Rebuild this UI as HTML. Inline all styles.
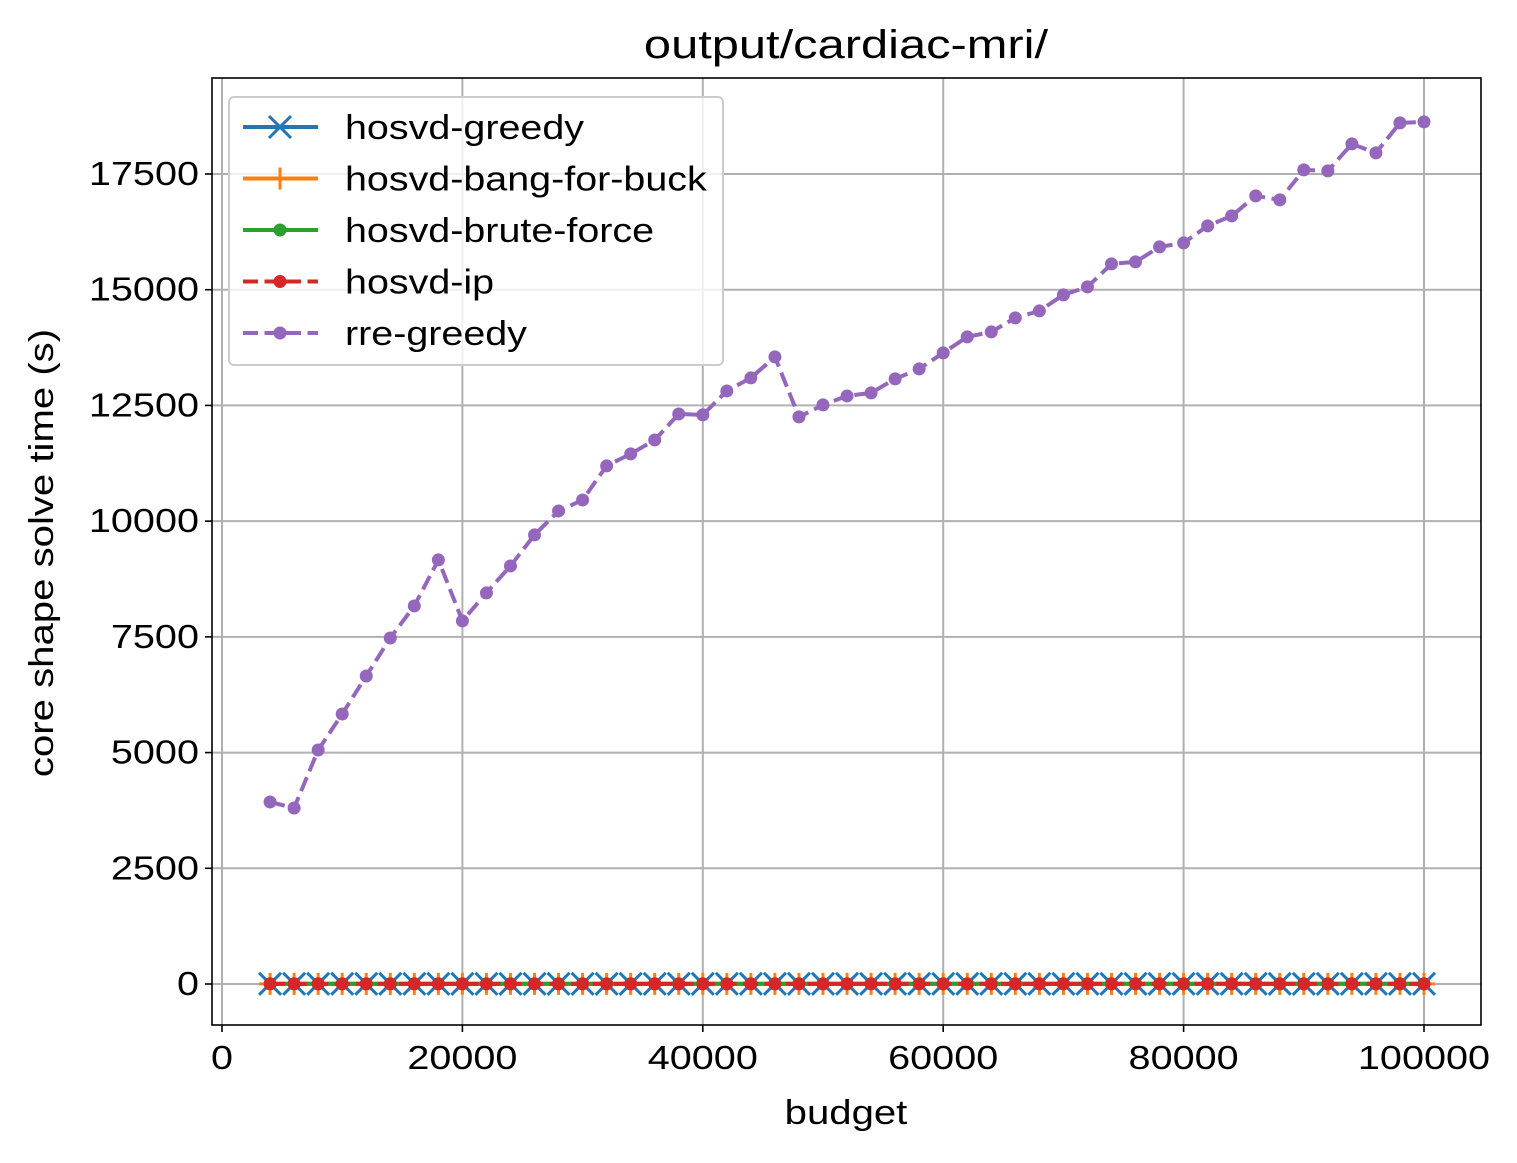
<!DOCTYPE html>
<html><head><meta charset="utf-8"><style>body{margin:0;background:#fff}svg{font-family:"Liberation Sans",sans-serif}</style></head>
<body>
<svg id="chart" width="1517" height="1158" xmlns="http://www.w3.org/2000/svg">
<rect width="1517" height="1158" fill="#fff"/>
<g id="grid"></g><g id="series"></g><g id="axes"></g>
</svg>
<script>
const budgets = [4000,6000,8000,10000,12000,14000,16000,18000,20000,22000,24000,26000,28000,30000,32000,34000,36000,38000,40000,42000,44000,46000,48000,50000,52000,54000,56000,58000,60000,62000,64000,66000,68000,70000,72000,74000,76000,78000,80000,82000,84000,86000,88000,90000,92000,94000,96000,98000,100000];
const rreGreedy = [3933,3803,5056,5834,6655,7476,8168,9162,7844,8449,9032,9702,10220,10458,11193,11452,11754,12316,12295,12813,13094,13548,12252,12511,12705,12770,13073,13289,13635,13980,14088,14391,14542,14888,15061,15558,15601,15925,16011,16379,16595,17027,16941,17589,17567,18150,17956,18604,18626];
const hosvdGreedy = budgets.map(()=>3);
const hosvdBang = budgets.map(()=>3);
const hosvdBrute = budgets.map(()=>5);
const hosvdIp = budgets.map(()=>2);
const xTicks = [0,20000,40000,60000,80000,100000];
const yTicks = [0,2500,5000,7500,10000,12500,15000,17500];
const L=212,R=1481,T=78,B=1025;
const xs = v => 222 + v*(1424-222)/100000;
const ys = v => 984 - v*(984-174)/17500;
const NS="http://www.w3.org/2000/svg";
function mk(tag, attrs, parent){const e=document.createElementNS(NS,tag);for(const k in attrs)e.setAttribute(k,attrs[k]);parent.appendChild(e);return e;}
function widen(t,f){const w=t.getComputedTextLength();if(w>0){t.setAttribute('textLength',(w*f).toFixed(1));t.setAttribute('lengthAdjust','spacingAndGlyphs');}}
const grid=document.getElementById('grid'),ser=document.getElementById('series'),ax=document.getElementById('axes'),svg=document.getElementById('chart');
xTicks.forEach(t=>{const x=xs(t);
 const g=mk('line',{x1:x,x2:x,y1:T,y2:B,stroke:'#b0b0b0','stroke-width':2},grid);
 
 mk('line',{x1:x,x2:x,y1:B,y2:B+7,stroke:'#000','stroke-width':1.6},ax);
 const tx=mk('text',{x:x,y:B+44,'font-size':33,'text-anchor':'middle'},ax);tx.textContent=t;widen(tx,1.2);
 });
yTicks.forEach(t=>{const y=ys(t);
 const g=mk('line',{x1:L,x2:R,y1:y,y2:y,stroke:'#b0b0b0','stroke-width':2},grid);
 
 mk('line',{x1:L-7,x2:L,y1:y,y2:y,stroke:'#000','stroke-width':1.6},ax);
 const tx=mk('text',{x:L-13,y:y+11,'font-size':33,'text-anchor':'end'},ax);tx.textContent=t;widen(tx,1.2);
 });
const fr=mk('rect',{x:L,y:T,width:R-L,height:B-T,fill:'none',stroke:'#000','stroke-width':1.6},ax);

function marker(type,x,y,c,p){
 if(type==='x'){mk('path',{d:`M${x-11} ${y-11}L${x+11} ${y+11}M${x-11} ${y+11}L${x+11} ${y-11}`,stroke:c,'stroke-width':3},p);}
 else if(type==='+'){mk('path',{d:`M${x-11} ${y}L${x+11} ${y}M${x} ${y-11}L${x} ${y+11}`,stroke:c,'stroke-width':3},p);}
 else mk('circle',{cx:x,cy:y,r:6.5,fill:c},p);}
function series(name,vals,c,m,dash){
 const g=mk('g',{},ser);
 const d=budgets.map((b,i)=>(i?'L':'M')+xs(b).toFixed(1)+' '+ys(vals[i]).toFixed(1)).join('');
 const a={d:d,fill:'none',stroke:c,'stroke-width':4};if(dash)a['stroke-dasharray']='15 6.5';
 mk('path',a,g);budgets.forEach((b,i)=>marker(m,xs(b),ys(vals[i]),c,g));}
series('hosvd-greedy',hosvdGreedy,'#1f77b4','x',false);
series('hosvd-bang-for-buck',hosvdBang,'#ff7f0e','+',false);
series('hosvd-brute-force',hosvdBrute,'#2ca02c','o',false);
series('hosvd-ip',hosvdIp,'#d62728','o',true);
series('rre-greedy',rreGreedy,'#9467bd','o',true);
const lg=mk('g',{},svg);
mk('rect',{x:229,y:97,width:494,height:268,rx:5,fill:'#fff','fill-opacity':0.8,stroke:'#ccc','stroke-width':2},lg);
const ent=[['hosvd-greedy','#1f77b4','x',false],['hosvd-bang-for-buck','#ff7f0e','+',false],['hosvd-brute-force','#2ca02c','o',false],['hosvd-ip','#d62728','o',true],['rre-greedy','#9467bd','o',true]];
ent.forEach((e,i)=>{const y=127+i*51.5;const g=mk('g',{},lg);
 
 const a={x1:243,x2:318,y1:y,y2:y,stroke:e[1],'stroke-width':4};if(e[3])a['stroke-dasharray']='15 6.5';
 mk('line',a,g);marker(e[2],280,y,e[1],g);
 const t=mk('text',{x:345,y:y+12,'font-size':34},g);t.textContent=e[0];widen(t,1.16);});
const ti=mk('text',{x:846,y:58,'font-size':40,'text-anchor':'middle'},svg);ti.textContent='output/cardiac-mri/';widen(ti,1.22);

const xl=mk('text',{x:846,y:1124,'font-size':34,'text-anchor':'middle'},svg);xl.textContent='budget';widen(xl,1.18);

const yl=mk('text',{x:0,y:0,'font-size':34,'text-anchor':'middle',transform:'translate(53,553) rotate(-90)'},svg);yl.textContent='core shape solve time (s)';widen(yl,1.18);

</script>
</body></html>
